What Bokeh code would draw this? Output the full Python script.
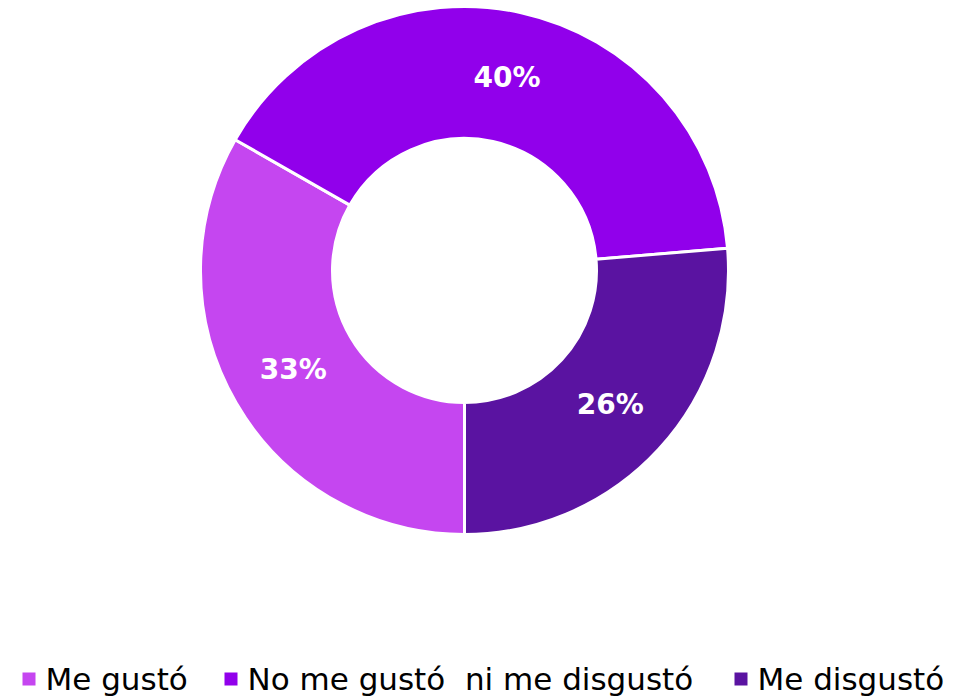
import math
from bokeh.plotting import figure
from bokeh.models import Range1d, ColumnDataSource
from bokeh.core.properties import value
from bokeh.embed import file_html
from bokeh.resources import INLINE

# ---- data ----
categories = ["Me gustó", "No me gustó\u00a0 ni me disgustó", "Me disgustó"]
shares = [33.25, 40.4, 26.35]
colors = ["#C546F0", "#9100EB", "#5A13A1"]

# ---- layout ----
W, H = 966, 697
cx, cy = 464, 427
r_out, r_in = 264, 132
start_deg = 270.0  # first slice starts at 6 o'clock, going clockwise

p = figure(width=W, height=H, output_backend="svg", toolbar_location=None,
           x_range=Range1d(0, W), y_range=Range1d(0, H), min_border=0)
p.axis.visible = False
p.grid.visible = False
p.outline_line_color = None
p.background_fill_color = "white"

total = sum(shares)
starts, ends, mids, labels = [], [], [], []
a = start_deg
for s in shares:
    span = 360.0 * s / total
    starts.append(math.radians(a))
    ends.append(math.radians(a - span))
    mids.append(math.radians(a - span / 2))
    labels.append(f"{round(s)}%")
    a -= span

src = ColumnDataSource(dict(start=starts, end=ends, color=colors,
                            x=[cx] * 3, y=[cy] * 3))
p.annular_wedge(x="x", y="y", inner_radius=r_in, outer_radius=r_out,
                start_angle="start", end_angle="end", direction="clock",
                fill_color="color", line_color="white", line_width=3, source=src)

r_mid = (r_in + r_out) / 2
lx = [cx + r_mid * math.cos(m) for m in mids]
ly = [cy + r_mid * math.sin(m) for m in mids]
p.text(x=lx, y=ly, text=labels, text_color="white", text_font=value("DejaVu Sans"),
       text_font_style="bold", text_font_size="28px", text_align="center",
       text_baseline="middle")

# ---- legend (manual) ----
sq_x = [28.5, 230.5, 740.5]
tx = [45, 247, 757]
leg_y = 18.5
p.rect(x=sq_x, y=[leg_y] * 3, width=13, height=13, fill_color=colors, line_color=None)
p.text(x=tx, y=[leg_y] * 3, text=categories, text_color="black",
       text_font=value("DejaVu Sans"), text_font_size="31px", text_align="left",
       text_baseline="middle")

open("out.html", "w").write(file_html(p, INLINE))
